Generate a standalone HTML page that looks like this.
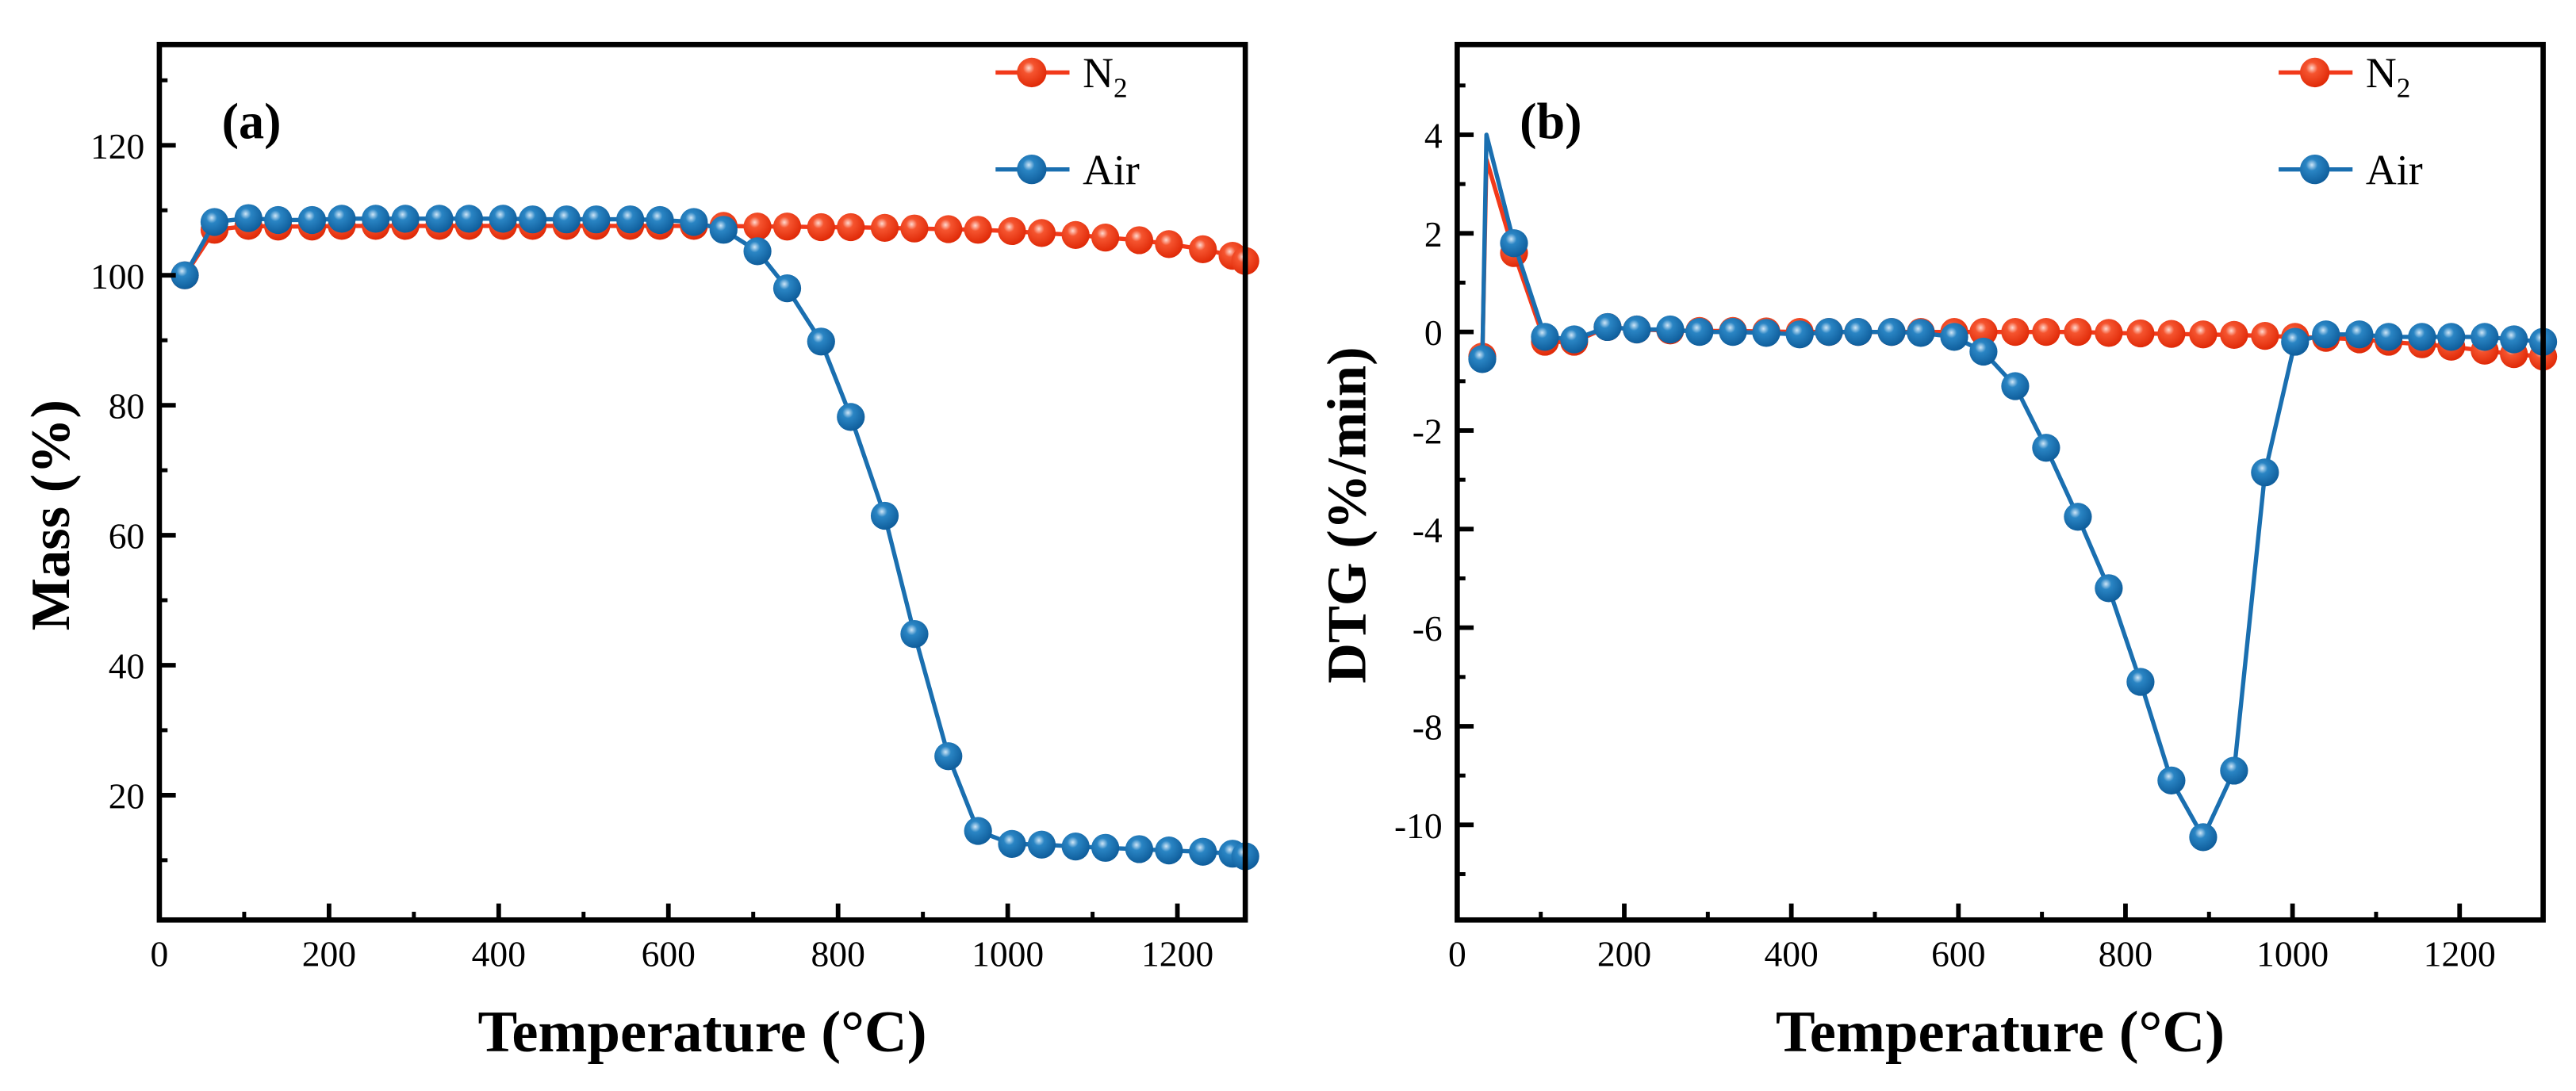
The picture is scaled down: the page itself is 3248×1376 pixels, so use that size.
<!DOCTYPE html>
<html><head><meta charset="utf-8">
<style>
html,body{margin:0;padding:0;background:#fff;}
svg{display:block;}
text{font-family:"Liberation Serif",serif;fill:#000;}
</style></head>
<body>
<svg id="fig" width="3248" height="1376" viewBox="0 0 1568 664" xmlns="http://www.w3.org/2000/svg">
<defs>
<radialGradient id="gRed" cx="40%" cy="35%" r="65%">
<stop offset="0" stop-color="#ffd9cf"/><stop offset="0.3" stop-color="#f5542f"/><stop offset="1" stop-color="#e02a08"/>
</radialGradient>
<radialGradient id="gBlue" cx="40%" cy="35%" r="65%">
<stop offset="0" stop-color="#cfe6f7"/><stop offset="0.3" stop-color="#2a85c4"/><stop offset="1" stop-color="#0f5e9c"/>
</radialGradient>
</defs>
<g id="panelA"></g>
<g id="panelB"></g>
</svg>
<script>
// Panel (a) data
const tempA_N2 = [30,65,105,140,180,215,255,290,330,365,405,440,480,515,555,590,630,665,705,740,780,815,855,890,930,965,1005,1040,1080,1115,1155,1190,1230,1265,1280];
const massN2 = [100,107,107.6,107.5,107.5,107.6,107.6,107.6,107.6,107.6,107.6,107.6,107.6,107.6,107.6,107.6,107.6,107.6,107.5,107.5,107.4,107.4,107.3,107.2,107.1,107,106.8,106.5,106.2,105.8,105.4,104.8,104,103,102.2];
const tempA_Air = [30,65,105,140,180,215,255,290,330,365,405,440,480,515,555,590,630,665,705,740,780,815,855,890,930,965,1005,1040,1080,1115,1155,1190,1230,1265,1280];
const massAir = [100,108.2,108.8,108.5,108.5,108.7,108.7,108.7,108.7,108.7,108.7,108.6,108.6,108.6,108.6,108.5,108.2,107,103.7,98,89.8,78.2,63,44.8,26,14.5,12.5,12.4,12.1,11.9,11.7,11.5,11.3,11,10.6];
const yTicksA = [20,40,60,80,100,120];
const xTicks = [0,200,400,600,800,1000,1200];
// Panel (b) data
const tempB = [30,35,68,105,140,180,215,255,290,330,370,410,445,480,520,555,595,630,668,705,743,780,818,855,893,930,967,1003,1040,1080,1115,1155,1190,1230,1265,1300];
const dtgN2 = [-0.5,3.5,1.6,-0.2,-0.2,0.1,0.05,0.03,0.02,0.02,0.01,0,0,0,0,0,0,0,0,0,0,-0.02,-0.03,-0.04,-0.05,-0.06,-0.08,-0.1,-0.12,-0.15,-0.2,-0.25,-0.3,-0.38,-0.45,-0.5];
const dtgAir = [-0.55,4.0,1.8,-0.1,-0.15,0.1,0.05,0.05,0,0,-0.02,-0.05,0,0,0,-0.02,-0.1,-0.4,-1.1,-2.35,-3.75,-5.2,-7.1,-9.1,-10.25,-8.9,-2.85,-0.2,-0.05,-0.05,-0.1,-0.1,-0.1,-0.1,-0.15,-0.2];
const yTicksB = [-10,-8,-6,-4,-2,0,2,4];

const NS="http://www.w3.org/2000/svg";
function mk(parent,tag,attrs){const e=document.createElementNS(NS,tag);for(const k in attrs)e.setAttribute(k,attrs[k]);parent.appendChild(e);return e;}

function drawPanel(g,cfg){
  const L=cfg.left,R=cfg.right,T=27,B=560;
  const sx=v=>L+(v-cfg.xmin)/(cfg.xmax-cfg.xmin)*(R-L);
  const sy=v=>B-(v-cfg.ymin)/(cfg.ymax-cfg.ymin)*(B-T);
  cfg.series.forEach(s=>{
    const pts=s.x.map((xv,i)=>sx(xv).toFixed(1)+","+sy(s.y[i]).toFixed(1)).join(" ");
    const pl=mk(g,"polyline",{points:pts,fill:"none",stroke:s.color,"stroke-width":2.6,"stroke-linejoin":"round"});
    
    
    s.x.forEach((xv,i)=>{
      if(s.skip && s.skip.includes(i))return;
      if(xv>cfg.xmax)return;
      const c=mk(g,"circle",{cx:sx(xv),cy:sy(s.y[i]),r:8.5,fill:s.grad});
      
      
    });
  });
  const fr=mk(g,"rect",{x:L,y:T,width:R-L,height:B-T,fill:"none",stroke:"#000","stroke-width":3.2});
  
  
  xTicks.forEach(v=>{
    const x=sx(v);
    mk(g,"line",{x1:x,x2:x,y1:B,y2:B-10,stroke:"#000","stroke-width":2.8});
    const t=mk(g,"text",{x:x,y:B+28,"font-size":22,"text-anchor":"middle","fill":"#222"});
    t.textContent=v;
    
    
  });
  for(let v=100;v<cfg.xmax;v+=200){const x=sx(v);mk(g,"line",{x1:x,x2:x,y1:B,y2:B-5,stroke:"#000","stroke-width":2.4});}
  cfg.yTicks.forEach(v=>{
    const y=sy(v);
    mk(g,"line",{x1:L,x2:L+10,y1:y,y2:y,stroke:"#000","stroke-width":2.8});
    const t=mk(g,"text",{x:L-9,y:y+8,"font-size":22,"text-anchor":"end","fill":"#222"});
    t.textContent=v;
    
    
  });
  const st=cfg.yTicks[1]-cfg.yTicks[0];
  for(let v=cfg.yTicks[0]-st/2;v<cfg.ymax;v+=st){if(v<cfg.ymin)continue;const y=sy(v);mk(g,"line",{x1:L,x2:L+5,y1:y,y2:y,stroke:"#000","stroke-width":2.4});}
  const xt=mk(g,"text",{x:(L+R)/2,y:640,"font-size":36,"font-weight":"bold","text-anchor":"middle"});
  xt.textContent="Temperature (°C)";
  
  
  const yt=mk(g,"text",{x:0,y:0,"font-size":34,"font-weight":"bold","text-anchor":"middle",transform:`translate(${cfg.ytitleX},${(T+B)/2+20}) rotate(-90)`});
  yt.textContent=cfg.ytitle;
  
  
  const pl=mk(g,"text",{x:L+38,y:84,"font-size":31,"font-weight":"bold"});
  pl.textContent=cfg.label;
  
  
  const lx=cfg.legendX;
  cfg.series.forEach((s,i)=>{
    const yy=i===0?44:103;
    const lg=mk(g,"g",{});
    
    
    mk(lg,"line",{x1:lx,x2:lx+45,y1:yy,y2:yy,stroke:s.color,"stroke-width":2.6});
    mk(lg,"circle",{cx:lx+22,cy:yy,r:9,fill:s.grad});
    const t=mk(lg,"text",{x:lx+53,y:yy+9,"font-size":26});
    if(s.name==="n2"){t.textContent="N";const sub=mk(t,"tspan",{"font-size":17,dy:6});sub.textContent="2";}
    else t.textContent="Air";
  });
}

drawPanel(document.getElementById("panelA"),{
  left:97,right:758,xmin:0,xmax:1280,ymin:0.8,ymax:135.5,yTicks:yTicksA,
  ytitle:"Mass (%)",ytitleX:42,label:"(a)",legendX:606,
  series:[
    {name:"n2",x:tempA_N2,y:massN2,color:"#f2391a",grad:"url(#gRed)"},
    {name:"air",x:tempA_Air,y:massAir,color:"#1a6fb0",grad:"url(#gBlue)"}
  ]
});
drawPanel(document.getElementById("panelB"),{
  left:887,right:1548,xmin:0,xmax:1300,ymin:-11.93,ymax:5.83,yTicks:yTicksB,
  ytitle:"DTG (%/min)",ytitleX:831,label:"(b)",legendX:1387,
  series:[
    {name:"n2",x:tempB,y:dtgN2,color:"#f2391a",grad:"url(#gRed)",skip:[1]},
    {name:"air",x:tempB,y:dtgAir,color:"#1a6fb0",grad:"url(#gBlue)",skip:[1]}
  ]
});
</script>
</body></html>
